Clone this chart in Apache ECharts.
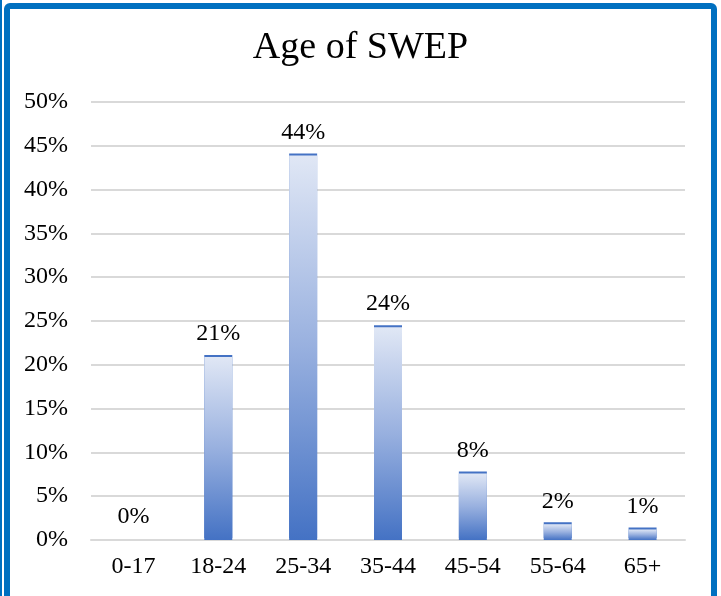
<!DOCTYPE html>
<html>
<head>
<meta charset="utf-8">
<script src="https://cdn.jsdelivr.net/npm/echarts@6/dist/echarts.min.js"></script>
<style>
html,body{margin:0;padding:0;background:#fff;}
#chart{width:721px;height:596px;}
</style>
</head>
<body>
<div id="chart"></div>
<script>
const categories = ['0-17', '18-24', '25-34', '35-44', '45-54', '55-64', '65+'];
const values = [0, 20.9, 43.9, 24.3, 7.6, 1.8, 1.2];
const yTicks = [0, 5, 10, 15, 20, 25, 30, 35, 40, 45, 50];
const titleText = 'Age of SWEP';

const FONT = "'Liberation Serif', 'Times New Roman', serif";
const chart = echarts.init(document.getElementById('chart'), null, {renderer: 'canvas'});
chart.setOption({
  animation: false,
  backgroundColor: '#ffffff',
  title: {
    text: titleText,
    left: 'center',
    top: 24,
    textStyle: {fontFamily: FONT, fontSize: 38, fontWeight: 'normal', color: '#000'}
  },
  graphic: [
    {type: 'rect', shape: {x: 7, y: 6, width: 707, height: 640, r: 3},
     style: {fill: 'none', stroke: '#0070C0', lineWidth: 6}, z: 100},
    {type: 'line', shape: {x1: 1, y1: 0, x2: 1, y2: 596},
     style: {stroke: '#0070C0', lineWidth: 2}, z: 100}
  ],
  grid: {left: 91, right: 36, top: 102, bottom: 56, containLabel: false},
  xAxis: {
    type: 'category',
    data: categories,
    axisLine: {show: true, lineStyle: {color: '#d9d9d9', width: 2}},
    axisTick: {show: false},
    axisLabel: {fontFamily: FONT, fontSize: 24, color: '#000', margin: 15}
  },
  yAxis: {
    type: 'value',
    min: yTicks[0],
    max: yTicks[yTicks.length - 1],
    interval: 5,
    axisLine: {show: false},
    axisTick: {show: false},
    splitLine: {lineStyle: {color: '#d9d9d9', width: 2}},
    axisLabel: {fontFamily: FONT, fontSize: 24, color: '#000', margin: 23,
      formatter: v => v + '%'}
  },
  series: [{
    type: 'bar',
    data: values,
    barWidth: 28,
    itemStyle: {
      color: new echarts.graphic.LinearGradient(0, 0, 0, 1, [
        {offset: 0, color: '#e0e7f5'},
        {offset: 0.5, color: '#98b0df'},
        {offset: 1, color: '#4472c4'}
      ]),
      shadowColor: '#4472c4',
      shadowBlur: 0,
      shadowOffsetY: -2
    },
    label: {
      show: true,
      position: 'top',
      distance: 11,
      fontFamily: FONT,
      fontSize: 24,
      color: '#000',
      formatter: p => Math.round(p.value) + '%'
    }
  }]
});
</script>
</body>
</html>
